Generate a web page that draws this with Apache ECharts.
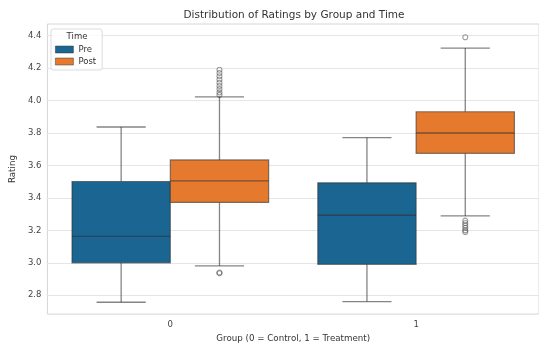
<!DOCTYPE html>
<html>
<head>
<meta charset="utf-8">
<script src="https://cdn.jsdelivr.net/npm/echarts@6/dist/echarts.min.js"></script>
<style>html,body{margin:0;padding:0;background:#fff}#c{width:539px;height:348px}</style>
</head>
<body>
<div id="c"></div>
<script>
// ---- data ----
const groups = ['0', '1'];
const timeNames = ['Pre', 'Post'];
// [min whisker, Q1, median, Q3, max whisker] per group
const preStats = [
  [2.757, 3.000, 3.163, 3.501, 3.837],
  [2.761, 2.991, 3.293, 3.493, 3.772]
];
const postStats = [
  [2.981, 3.372, 3.505, 3.634, 4.023],
  [3.289, 3.675, 3.800, 3.931, 4.323]
];
const preOutliers = [[], []];
const postOutliers = [
  [2.936, 2.940, 4.035, 4.050, 4.070, 4.090, 4.110, 4.130, 4.150, 4.170, 4.190],
  [4.390, 3.260, 3.245, 3.230, 3.215, 3.200, 3.190]
];
const yTicks = [2.8, 3.0, 3.2, 3.4, 3.6, 3.8, 4.0, 4.2, 4.4];

// ---- styles ----
const colors = { Pre: '#1a6592', Post: '#e57a2f' };
const lineColor = 'rgba(50,50,50,0.6)';
const FONT = 'DejaVu Sans';

function rows(stats) { return stats.map((s, i) => [i].concat(s)); }
function outlierRows(list, offset) {
  const out = [];
  list.forEach((vals, i) => vals.forEach(v => out.push([i + offset, v])));
  return out;
}

function makeRender(offset, color) {
  return function (params, api) {
    const x = api.value(0) + offset;
    const w = api.size([0.4, 0])[0];
    const pMin = api.coord([x, api.value(1)]);
    const pQ1 = api.coord([x, api.value(2)]);
    const pMed = api.coord([x, api.value(3)]);
    const pQ3 = api.coord([x, api.value(4)]);
    const pMax = api.coord([x, api.value(5)]);
    const cx = pMed[0];
    const ls = { stroke: lineColor, lineWidth: 1.3 };
    return {
      type: 'group',
      children: [
        { type: 'line', shape: { x1: cx, y1: pQ3[1], x2: cx, y2: pMax[1] }, style: ls },
        { type: 'line', shape: { x1: cx, y1: pQ1[1], x2: cx, y2: pMin[1] }, style: ls },
        { type: 'line', shape: { x1: cx - w / 4, y1: pMax[1], x2: cx + w / 4, y2: pMax[1] }, style: ls },
        { type: 'line', shape: { x1: cx - w / 4, y1: pMin[1], x2: cx + w / 4, y2: pMin[1] }, style: ls },
        { type: 'rect', shape: { x: cx - w / 2, y: pQ3[1], width: w, height: pQ1[1] - pQ3[1] },
          style: { fill: color, stroke: lineColor, lineWidth: 1.2 } },
        { type: 'line', shape: { x1: cx - w / 2, y1: pMed[1], x2: cx + w / 2, y2: pMed[1] }, style: ls }
      ]
    };
  };
}

const chart = echarts.init(document.getElementById('c'), null, { renderer: 'canvas' });
chart.setOption({
  animation: false,
  backgroundColor: '#fff',
  textStyle: { fontFamily: FONT },
  grid: { left: 47, top: 24, width: 494, height: 293, show: true, borderColor: '#d6d6d6', borderWidth: 1, backgroundColor: 'transparent' },
  legend: {
    orient: 'vertical', left: 51, top: 29,
    padding: [16, 6, 4, 4],
    itemGap: 3, itemWidth: 18, itemHeight: 7,
    borderColor: '#dcdcdc', borderWidth: 1, borderRadius: 2,
    backgroundColor: 'rgba(255,255,255,0.8)',
    icon: 'rect',
    itemStyle: { borderColor: lineColor, borderWidth: 0.8 },
    textStyle: { fontSize: 8.5, color: '#333', fontFamily: FONT, padding: [0, 0, 0, 0] },
    data: timeNames
  },
  graphic: [
    { type: 'text', x: 294, y: 15, style: { text: 'Distribution of Ratings by Group and Time', fontSize: 10.5, fontFamily: FONT, fill: '#333', textAlign: 'center', textVerticalAlign: 'middle' } },
    { type: 'text', x: 77, y: 36.5, z: 100, style: { text: 'Time', fontSize: 8.5, fontFamily: FONT, fill: '#333', textAlign: 'center', textVerticalAlign: 'middle' } }
  ],
  xAxis: [
    {
      type: 'category', data: groups, gridIndex: 0,
      axisLine: { show: false }, axisTick: { show: false }, splitLine: { show: false },
      axisLabel: { fontSize: 8.5, color: '#444', margin: 6, fontFamily: FONT },
      name: 'Group (0 = Control, 1 = Treatment)', nameLocation: 'middle', nameGap: 18,
      nameTextStyle: { fontSize: 8.7, color: '#333', fontFamily: FONT }
    },
    { type: 'value', min: -0.5, max: 1.5, show: false, gridIndex: 0 }
  ],
  yAxis: {
    type: 'value', min: 2.684, max: 4.4716,
    axisLine: { show: false },
    axisTick: { show: false, customValues: yTicks },
    axisLabel: { customValues: yTicks, fontSize: 8.5, color: '#444', margin: 6, fontFamily: FONT, formatter: v => v.toFixed(1) },
    splitLine: { show: true, lineStyle: { color: '#e6e6e6', width: 1 } },
    name: 'Rating', nameLocation: 'middle', nameGap: 23,
    nameTextStyle: { fontSize: 8.7, color: '#333', fontFamily: FONT }
  },
  series: [
    {
      name: 'Pre', type: 'custom', xAxisIndex: 1, yAxisIndex: 0,
      itemStyle: { color: colors.Pre },
      renderItem: makeRender(-0.2, colors.Pre),
      encode: { x: 0, y: [1, 2, 3, 4, 5] },
      data: rows(preStats)
    },
    {
      name: 'Post', type: 'custom', xAxisIndex: 1, yAxisIndex: 0,
      itemStyle: { color: colors.Post },
      renderItem: makeRender(0.2, colors.Post),
      encode: { x: 0, y: [1, 2, 3, 4, 5] },
      data: rows(postStats)
    },
    {
      name: 'Pre outliers', type: 'scatter', xAxisIndex: 1, yAxisIndex: 0,
      symbol: 'emptyCircle', symbolSize: 5,
      itemStyle: { color: '#fff', borderColor: lineColor, borderWidth: 1.1 },
      data: outlierRows(preOutliers, -0.2)
    },
    {
      name: 'Post outliers', type: 'scatter', xAxisIndex: 1, yAxisIndex: 0,
      symbol: 'circle', symbolSize: 5,
      itemStyle: { color: 'rgba(255,255,255,0)', borderColor: lineColor, borderWidth: 1.1 },
      data: outlierRows(postOutliers, 0.2)
    }
  ]
});
</script>
</body>
</html>
